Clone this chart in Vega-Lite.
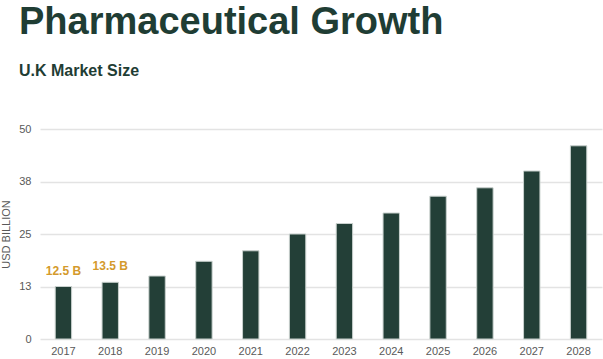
{
  "$schema": "https://vega.github.io/schema/vega-lite/v6.json",
  "width": 562,
  "height": 210,
  "autosize": {"type": "none"},
  "padding": {"left": 40, "top": 129, "right": 1, "bottom": 20},
  "background": "white",
  "title": {
    "text": "Pharmaceutical Growth",
    "subtitle": "U.K Market Size",
    "anchor": "start",
    "frame": "group",
    "dx": -21,
    "offset": 44,
    "font": "Liberation Sans",
    "fontSize": 38,
    "fontWeight": "bold",
    "color": "#1f3d34",
    "subtitleFont": "Liberation Sans",
    "subtitleFontSize": 16,
    "subtitleFontWeight": "bold",
    "subtitleColor": "#1f3d34",
    "subtitlePadding": 21
  },
  "config": {"view": {"stroke": null}, "font": "Liberation Sans"},
  "data": {
    "values": [
      {"year": "2017", "value": 12.5, "label": "12.5 B"},
      {"year": "2018", "value": 13.5, "label": "13.5 B"},
      {"year": "2019", "value": 15, "label": null},
      {"year": "2020", "value": 18.5, "label": null},
      {"year": "2021", "value": 21, "label": null},
      {"year": "2022", "value": 25, "label": null},
      {"year": "2023", "value": 27.5, "label": null},
      {"year": "2024", "value": 30, "label": null},
      {"year": "2025", "value": 34, "label": null},
      {"year": "2026", "value": 36, "label": null},
      {"year": "2027", "value": 40, "label": null},
      {"year": "2028", "value": 46, "label": null}
    ]
  },
  "encoding": {
    "x": {
      "field": "year",
      "type": "ordinal",
      "scale": {"paddingInner": 0.65, "paddingOuter": 0.325},
      "axis": {
        "title": null,
        "labelAngle": 0,
        "domain": false,
        "ticks": false,
        "labelColor": "#595959",
        "labelFontSize": 11,
        "labelPadding": 6
      }
    },
    "y": {
      "field": "value",
      "type": "quantitative",
      "scale": {"domain": [0, 50], "nice": false},
      "axis": {
        "values": [0, 12.5, 25, 37.5, 50],
        "format": ".0f",
        "grid": true,
        "gridColor": "#e3e3e3",
        "gridWidth": 1.5,
        "domain": false,
        "ticks": false,
        "labelPadding": 9,
        "labelColor": "#595959",
        "labelFontSize": 11,
        "title": "USD BILLION",
        "titleFontSize": 11,
        "titleFontWeight": "normal",
        "titleColor": "#595959",
        "titlePadding": 7
      }
    }
  },
  "layer": [
    {
      "mark": {"type": "bar", "color": "#233f37", "stroke": "#c9d1ce", "strokeWidth": 1}
    },
    {
      "transform": [{"filter": "datum.label != null"}],
      "mark": {
        "type": "text",
        "dy": -9,
        "baseline": "bottom",
        "fontSize": 12,
        "fontWeight": "bold",
        "color": "#d49a2c"
      },
      "encoding": {"text": {"field": "label"}}
    }
  ]
}
